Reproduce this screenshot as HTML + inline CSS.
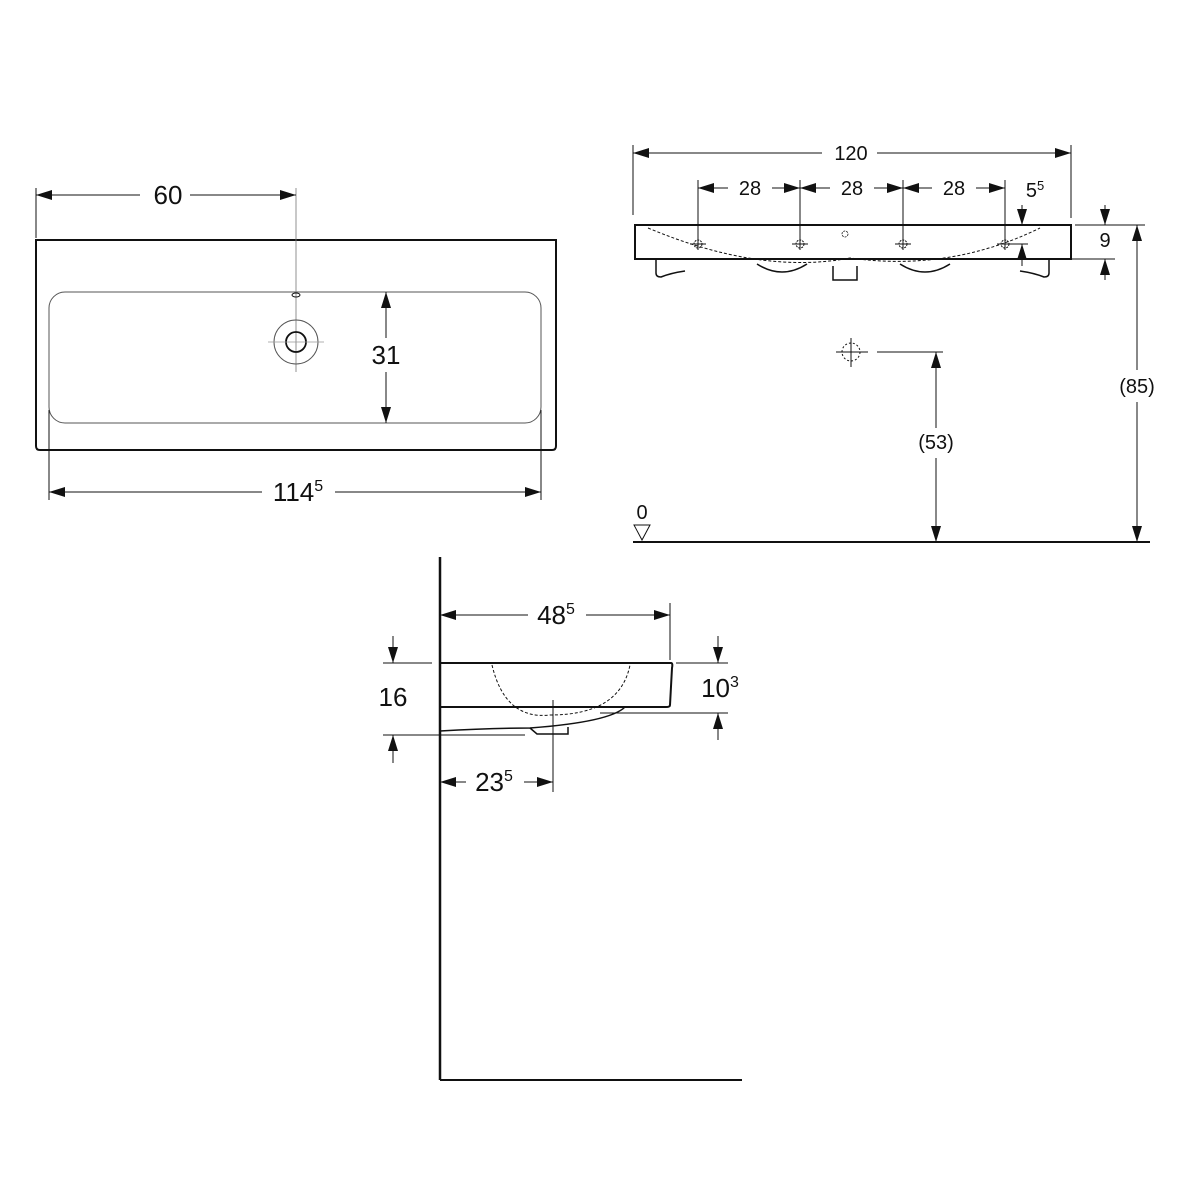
<!DOCTYPE html>
<html><head><meta charset="utf-8"><style>html,body{margin:0;padding:0;background:#fff}svg{display:block}text{font-family:"Liberation Sans",sans-serif;fill:#111}</style></head>
<body>
<svg width="1200" height="1200" viewBox="0 0 1200 1200" xmlns="http://www.w3.org/2000/svg">
<defs>
<marker id="a" viewBox="0 0 16 10" refX="16" refY="5" markerWidth="16" markerHeight="10" markerUnits="userSpaceOnUse" orient="auto-start-reverse"><path d="M0,0L16,5L0,10z" fill="#111"/></marker>
</defs>
<g stroke="#111" fill="none">
<!-- TOP VIEW -->
<path d="M36,240H556V446q0,4-4,4H40q-4,0-4-4z" stroke-width="2"/>
<rect x="49" y="292" width="492" height="131" rx="16" stroke-width="1" stroke="#555"/>
<line x1="36" y1="188" x2="36" y2="238" stroke-width="1"/>
<line x1="296" y1="188" x2="296" y2="372" stroke-width="0.8" stroke="#777"/>
<line x1="36" y1="195" x2="140" y2="195" stroke-width="1" marker-start="url(#a)"/>
<line x1="190" y1="195" x2="296" y2="195" stroke-width="1" marker-end="url(#a)"/>
<ellipse cx="296" cy="295" rx="4" ry="2" stroke-width="1"/>
<circle cx="296" cy="342" r="22" stroke-width="1" stroke="#555"/>
<circle cx="296" cy="342" r="10" stroke-width="1.8"/>
<line x1="268" y1="342" x2="324" y2="342" stroke-width="0.7" stroke="#999"/>
<line x1="386" y1="292" x2="386" y2="338" stroke-width="1" marker-start="url(#a)"/>
<line x1="386" y1="372" x2="386" y2="423" stroke-width="1" marker-end="url(#a)"/>
<line x1="49" y1="410" x2="49" y2="500" stroke-width="1"/>
<line x1="541" y1="410" x2="541" y2="500" stroke-width="1"/>
<line x1="49" y1="492" x2="262" y2="492" stroke-width="1" marker-start="url(#a)"/>
<line x1="335" y1="492" x2="541" y2="492" stroke-width="1" marker-end="url(#a)"/>
<!-- FRONT VIEW -->
<path d="M635,225H1071V259H635z" stroke-width="2"/>
<path d="M656,259V273q0,4,5,4q10-4,24-6" stroke-width="1.5"/>
<path d="M1049,259V273q0,4-5,4q-10-4-24-6" stroke-width="1.5"/>
<path d="M757,264q25,16,50,0M900,264q25,16,50,0" stroke-width="1.5"/>
<path d="M833,266V280H857V266" stroke-width="1.5"/>
<path d="M648,228Q760,275,850,258Q950,272,1040,228" stroke-width="1" stroke-dasharray="3,2"/>
<circle cx="845" cy="234" r="3" stroke-width="0.8" stroke-dasharray="2,1"/>
<line x1="633" y1="145" x2="633" y2="215" stroke-width="1"/>
<line x1="1071" y1="145" x2="1071" y2="218" stroke-width="1"/>
<line x1="633" y1="153" x2="822" y2="153" stroke-width="1" marker-start="url(#a)"/>
<line x1="877" y1="153" x2="1071" y2="153" stroke-width="1" marker-end="url(#a)"/>
<g stroke-width="1">
<line x1="698" y1="180" x2="698" y2="250"/><line x1="800" y1="180" x2="800" y2="250"/><line x1="903" y1="180" x2="903" y2="250"/><line x1="1005" y1="180" x2="1005" y2="250"/>
<line x1="698" y1="188" x2="728" y2="188" marker-start="url(#a)"/><line x1="772" y1="188" x2="800" y2="188" marker-end="url(#a)"/>
<line x1="800" y1="188" x2="830" y2="188" marker-start="url(#a)"/><line x1="874" y1="188" x2="903" y2="188" marker-end="url(#a)"/>
<line x1="903" y1="188" x2="932" y2="188" marker-start="url(#a)"/><line x1="976" y1="188" x2="1005" y2="188" marker-end="url(#a)"/>
</g>
<g stroke-width="1" stroke-dasharray="2,1">
<circle cx="698" cy="244" r="4"/><circle cx="800" cy="244" r="4"/><circle cx="903" cy="244" r="4"/><circle cx="1005" cy="244" r="4"/>
</g>
<g stroke-width="1"><line x1="690" y1="244" x2="706" y2="244"/><line x1="792" y1="244" x2="808" y2="244"/><line x1="895" y1="244" x2="911" y2="244"/><line x1="997" y1="244" x2="1013" y2="244"/></g>
<line x1="1010" y1="244" x2="1028" y2="244" stroke-width="1"/>
<line x1="1022" y1="205" x2="1022" y2="225" stroke-width="1" marker-end="url(#a)"/>
<line x1="1022" y1="266" x2="1022" y2="244" stroke-width="1" marker-end="url(#a)"/>
<line x1="1075" y1="225" x2="1145" y2="225" stroke-width="1"/>
<line x1="1066" y1="259" x2="1115" y2="259" stroke-width="1"/>
<line x1="1105" y1="205" x2="1105" y2="225" stroke-width="1" marker-end="url(#a)"/>
<line x1="1105" y1="280" x2="1105" y2="259" stroke-width="1" marker-end="url(#a)"/>
<line x1="1137" y1="370" x2="1137" y2="225" stroke-width="1" marker-end="url(#a)"/>
<line x1="1137" y1="402" x2="1137" y2="542" stroke-width="1" marker-end="url(#a)"/>
<line x1="633" y1="542" x2="1150" y2="542" stroke-width="2"/>
<path d="M634,525H650L642,540z" stroke-width="1"/>
<circle cx="851" cy="352" r="9" stroke-width="1" stroke-dasharray="2,2"/>
<line x1="836" y1="352" x2="868" y2="352" stroke-width="1"/>
<line x1="851" y1="338" x2="851" y2="367" stroke-width="1"/>
<line x1="877" y1="352" x2="943" y2="352" stroke-width="1"/>
<line x1="936" y1="428" x2="936" y2="352" stroke-width="1" marker-end="url(#a)"/>
<line x1="936" y1="458" x2="936" y2="542" stroke-width="1" marker-end="url(#a)"/>
<!-- SIDE VIEW -->
<line x1="440" y1="557" x2="440" y2="1080" stroke-width="2.5"/>
<line x1="440" y1="1080" x2="742" y2="1080" stroke-width="2"/>
<path d="M440,663H671Q673,663,672,668L670,705Q670,707,666,707H440" stroke-width="2"/>
<path d="M440,731Q490,728,530,728Q610,722,625,707" stroke-width="1.5"/>
<path d="M530,728L537,734H568V727" stroke-width="1.5"/>
<path d="M492,665Q505,720,550,715Q620,715,630,665" stroke-width="1" stroke-dasharray="3,2"/>
<line x1="553" y1="700" x2="553" y2="792" stroke-width="1"/>
<line x1="440" y1="615" x2="528" y2="615" stroke-width="1" marker-start="url(#a)"/>
<line x1="586" y1="615" x2="670" y2="615" stroke-width="1" marker-end="url(#a)"/>
<line x1="670" y1="603" x2="670" y2="660" stroke-width="1"/>
<line x1="383" y1="663" x2="432" y2="663" stroke-width="1"/>
<line x1="383" y1="735" x2="525" y2="735" stroke-width="1"/>
<line x1="393" y1="636" x2="393" y2="663" stroke-width="1" marker-end="url(#a)"/>
<line x1="393" y1="763" x2="393" y2="735" stroke-width="1" marker-end="url(#a)"/>
<line x1="676" y1="663" x2="728" y2="663" stroke-width="1"/>
<line x1="600" y1="713" x2="728" y2="713" stroke-width="1"/>
<line x1="718" y1="636" x2="718" y2="663" stroke-width="1" marker-end="url(#a)"/>
<line x1="718" y1="740" x2="718" y2="713" stroke-width="1" marker-end="url(#a)"/>
<line x1="440" y1="782" x2="466" y2="782" stroke-width="1" marker-start="url(#a)"/>
<line x1="524" y1="782" x2="553" y2="782" stroke-width="1" marker-end="url(#a)"/>
</g>
<g font-size="26">
<text x="168" y="204" text-anchor="middle">60</text>
<text x="386" y="364" text-anchor="middle">31</text>
<text x="298" y="501" text-anchor="middle">114<tspan font-size="16" dy="-10">5</tspan></text>
<text x="556" y="624" text-anchor="middle">48<tspan font-size="16" dy="-10">5</tspan></text>
<text x="393" y="706" text-anchor="middle">16</text>
<text x="720" y="697" text-anchor="middle">10<tspan font-size="16" dy="-10">3</tspan></text>
<text x="494" y="791" text-anchor="middle">23<tspan font-size="16" dy="-10">5</tspan></text>
</g>
<g font-size="20">
<text x="851" y="160" text-anchor="middle">120</text>
<text x="750" y="195" text-anchor="middle">28</text>
<text x="852" y="195" text-anchor="middle">28</text>
<text x="954" y="195" text-anchor="middle">28</text>
<text x="1035" y="197" text-anchor="middle">5<tspan font-size="13" dy="-7">5</tspan></text>
<text x="1105" y="247" text-anchor="middle">9</text>
<text x="1137" y="393" text-anchor="middle">(85)</text>
<text x="936" y="449" text-anchor="middle">(53)</text>
<text x="642" y="519" text-anchor="middle">0</text>
</g>
</svg>
</body></html>
